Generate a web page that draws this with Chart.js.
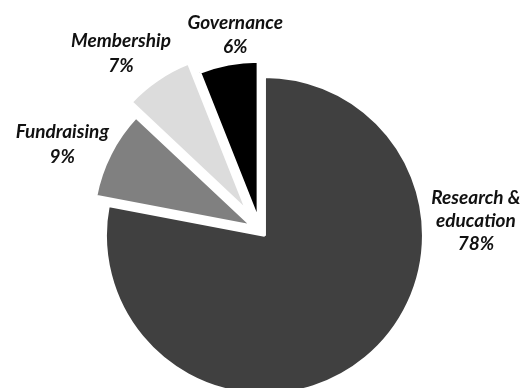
<!DOCTYPE html>
<html>
<head>
<meta charset="utf-8">
<script src="https://cdn.jsdelivr.net/npm/chart.js@4/dist/chart.umd.min.js"></script>
<style>
  html, body { margin: 0; padding: 0; background: #fff; overflow: hidden; }
  #wrap { width: 526px; height: 388px; }
</style>
</head>
<body>
<div id="wrap"><canvas id="pie" width="526" height="388"></canvas></div>
<script>
// --- Data ---
const categories = ['Research & education', 'Fundraising', 'Membership', 'Governance'];
const shares = [78, 9, 7, 6];
const labelLines = [['Research &', 'education'], ['Fundraising'], ['Membership'], ['Governance']];

// --- Style ---
const sliceColors = ['#404040', '#808080', '#dcdcdc', '#000000'];
const explodeOffsets = [7, 9, 23, 10];          // px pulled out along each slice's middle
const labelPlacement = [                         // angle (deg, clockwise from top) / distance from slice centre
    { angle: 85.8, dist: 212 },
    { angle: 293.6, dist: 207 },
    { angle: 321.6, dist: 203 },
    { angle: 353, dist: 188 }
];

// pulls slices out without growing their radius (chart.js offset also enlarges them)
const explodePlugin = {
    id: 'explode',
    afterDatasetsUpdate(chart) {
        const meta = chart.getDatasetMeta(0);
        meta.data.forEach((arc, i) => {
            const mid = (arc.startAngle + arc.endAngle) / 2;
            arc.x += Math.cos(mid) * explodeOffsets[i];
            arc.y += Math.sin(mid) * explodeOffsets[i];
        });
    }
};

const labelPlugin = {
    id: 'sliceLabels',
    afterDatasetsDraw(chart) {
        const { ctx } = chart;
        const meta = chart.getDatasetMeta(0);
        ctx.save();
        ctx.font = 'italic bold 19px Lato';
        ctx.fillStyle = '#111';
        ctx.textAlign = 'center';
        ctx.textBaseline = 'middle';
        meta.data.forEach((arc, i) => {
            const p = labelPlacement[i];
            const a = (p.angle - 90) * Math.PI / 180;
            const cx = arc.x + Math.cos(a) * p.dist;
            const cy = arc.y + Math.sin(a) * p.dist + 1.5;
            const lines = [...labelLines[i], shares[i] + '%'];
            const lh = lines.length > 2 ? 23 : 24.5;
            lines.forEach((t, j) => {
                ctx.fillText(t, cx, cy + (j - (lines.length - 1) / 2) * lh);
            });
        });
        ctx.restore();
    }
};

new Chart(document.getElementById('pie'), {
    type: 'pie',
    data: {
        labels: categories,
        datasets: [{
            data: shares,
            backgroundColor: sliceColors,
            borderColor: '#ffffff',
            borderWidth: 3,
            radius: 159
        }]
    },
    options: {
        responsive: false,
        animation: false,
        events: [],
        layout: { padding: { left: 0, right: 6, top: 72, bottom: 0 } },
        plugins: {
            legend: { display: false },
            tooltip: { enabled: false }
        }
    },
    plugins: [explodePlugin, labelPlugin]
});
</script>
</body>
</html>
